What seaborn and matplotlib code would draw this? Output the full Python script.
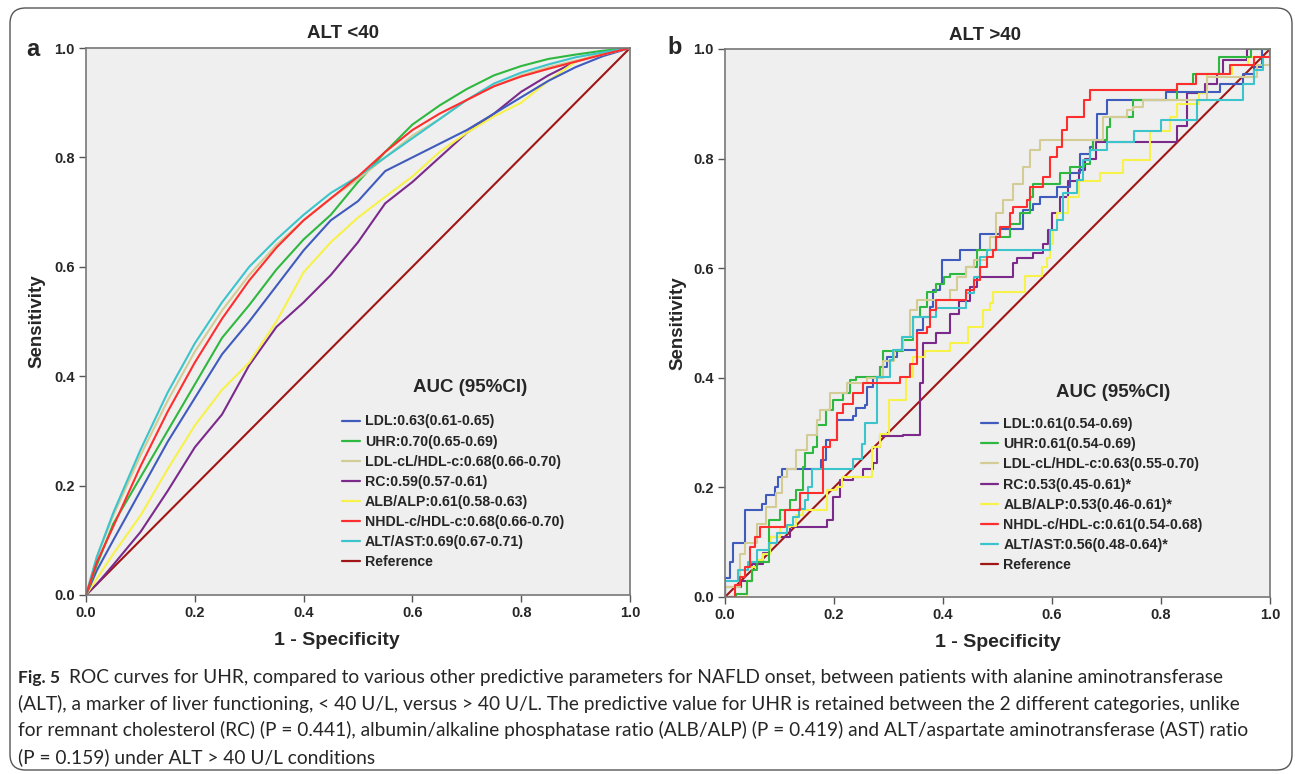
import numpy as np
import pandas as pd
import matplotlib
matplotlib.use('Agg')
import matplotlib.pyplot as plt
import seaborn as sns
from matplotlib.lines import Line2D
from matplotlib.patches import FancyBboxPatch

# ---------------- data ----------------
series_names = ["LDL", "UHR", "LDL-cL/HDL-c", "RC", "ALB/ALP", "NHDL-c/HDL-c", "ALT/AST", "Reference"]
series_colors = ["#3f5bbd", "#2fb83f", "#d3cc95", "#7b2a8c", "#f7f24a", "#ff2e2e", "#3cc4cc", "#a01515"]

labels_a = ["LDL:0.63(0.61-0.65)", "UHR:0.70(0.65-0.69)", "LDL-cL/HDL-c:0.68(0.66-0.70)",
            "RC:0.59(0.57-0.61)", "ALB/ALP:0.61(0.58-0.63)", "NHDL-c/HDL-c:0.68(0.66-0.70)",
            "ALT/AST:0.69(0.67-0.71)", "Reference"]
labels_b = ["LDL:0.61(0.54-0.69)", "UHR:0.61(0.54-0.69)", "LDL-cL/HDL-c:0.63(0.55-0.70)",
            "RC:0.53(0.45-0.61)*", "ALB/ALP:0.53(0.46-0.61)*", "NHDL-c/HDL-c:0.61(0.54-0.68)",
            "ALT/AST:0.56(0.48-0.64)*", "Reference"]

# Panel a (ALT < 40): 1-specificity grid and sensitivity per marker
fpr_a = [0, 0.02, 0.05, 0.1, 0.15, 0.2, 0.25, 0.3, 0.35, 0.4, 0.45, 0.5, 0.55, 0.6, 0.65,
         0.7, 0.75, 0.8, 0.85, 0.9, 0.95, 1.0]
ldl_a = [0, 0.045, 0.10, 0.19, 0.28, 0.36, 0.44, 0.50, 0.565, 0.63, 0.685, 0.72, 0.775, 0.80,
         0.825, 0.85, 0.88, 0.91, 0.94, 0.965, 0.985, 1.0]
uhr_a = [0, 0.055, 0.13, 0.215, 0.30, 0.385, 0.47, 0.53, 0.595, 0.65, 0.695, 0.755, 0.81, 0.86,
         0.895, 0.925, 0.95, 0.967, 0.98, 0.988, 0.995, 1.0]
ldlc_a = [0, 0.07, 0.145, 0.255, 0.355, 0.445, 0.52, 0.585, 0.64, 0.685, 0.725, 0.76, 0.80, 0.84,
          0.87, 0.905, 0.93, 0.95, 0.965, 0.977, 0.988, 1.0]
rc_a = [0, 0.02, 0.055, 0.115, 0.19, 0.27, 0.33, 0.42, 0.49, 0.535, 0.585, 0.645, 0.716, 0.755,
        0.80, 0.845, 0.88, 0.92, 0.95, 0.975, 0.99, 1.0]
alb_a = [0, 0.03, 0.075, 0.145, 0.23, 0.31, 0.375, 0.425, 0.50, 0.59, 0.645, 0.69, 0.728, 0.765,
         0.81, 0.845, 0.875, 0.90, 0.94, 0.975, 0.99, 1.0]
nhdl_a = [0, 0.06, 0.125, 0.235, 0.335, 0.425, 0.505, 0.575, 0.635, 0.685, 0.725, 0.765, 0.81, 0.85,
          0.88, 0.905, 0.93, 0.948, 0.962, 0.975, 0.988, 1.0]
alt_a = [0, 0.07, 0.15, 0.265, 0.37, 0.46, 0.535, 0.60, 0.65, 0.695, 0.735, 0.765, 0.80, 0.835,
         0.87, 0.905, 0.935, 0.955, 0.97, 0.983, 0.992, 1.0]

# Panel b (ALT > 40): step ROC curves (1-specificity, sensitivity)
ldl_b_x = [0, 0, 0.009, 0.015, 0.037, 0.067, 0.076, 0.092, 0.098, 0.104, 0.177, 0.185, 0.205, 0.235,
           0.241, 0.257, 0.26, 0.272, 0.284, 0.297, 0.315, 0.352, 0.364, 0.376, 0.382, 0.394, 0.399,
           0.431, 0.468, 0.505, 0.547, 0.566, 0.578, 0.609, 0.633, 0.651, 0.67, 0.676, 0.682, 0.70,
           0.81, 0.908, 0.951, 0.97, 0.985, 1.0]
ldl_b_y = [0, 0.035, 0.064, 0.098, 0.158, 0.17, 0.186, 0.20, 0.219, 0.234, 0.25, 0.286, 0.323, 0.33,
           0.344, 0.35, 0.384, 0.402, 0.42, 0.438, 0.45, 0.487, 0.511, 0.529, 0.56, 0.572, 0.615,
           0.633, 0.663, 0.671, 0.706, 0.718, 0.73, 0.748, 0.773, 0.809, 0.821, 0.834, 0.882, 0.907,
           0.922, 0.937, 0.955, 0.968, 1.0, 1.0]
uhr_b_x = [0, 0.021, 0.04, 0.049, 0.058, 0.08, 0.101, 0.119, 0.131, 0.144, 0.147, 0.162, 0.168, 0.186,
           0.199, 0.217, 0.229, 0.241, 0.284, 0.29, 0.327, 0.345, 0.358, 0.37, 0.388, 0.401, 0.413,
           0.443, 0.462, 0.498, 0.523, 0.541, 0.56, 0.566, 0.615, 0.633, 0.658, 0.67, 0.676, 0.70,
           0.707, 0.749, 0.829, 0.859, 0.907, 0.966, 1.0]
uhr_b_y = [0, 0.006, 0.03, 0.049, 0.064, 0.14, 0.158, 0.177, 0.195, 0.238, 0.262, 0.274, 0.314, 0.341,
           0.359, 0.372, 0.396, 0.402, 0.42, 0.448, 0.469, 0.511, 0.529, 0.557, 0.572, 0.584, 0.59,
           0.603, 0.633, 0.657, 0.68, 0.70, 0.73, 0.754, 0.773, 0.785, 0.791, 0.815, 0.834, 0.858,
           0.876, 0.907, 0.937, 0.955, 0.986, 1.0, 1.0]
ldlc_b_x = [0, 0, 0.027, 0.037, 0.058, 0.076, 0.094, 0.104, 0.113, 0.131, 0.15, 0.168, 0.174, 0.193,
            0.223, 0.26, 0.29, 0.31, 0.327, 0.339, 0.352, 0.413, 0.425, 0.443, 0.456, 0.48, 0.486,
            0.498, 0.511, 0.529, 0.547, 0.56, 0.578, 0.694, 0.737, 0.749, 0.767, 0.884, 0.976, 1.0]
ldlc_b_y = [0, 0.018, 0.079, 0.098, 0.134, 0.165, 0.189, 0.219, 0.234, 0.268, 0.295, 0.323, 0.341, 0.372,
            0.39, 0.40, 0.43, 0.45, 0.475, 0.523, 0.542, 0.56, 0.584, 0.603, 0.615, 0.633, 0.657,
            0.70, 0.724, 0.754, 0.785, 0.815, 0.834, 0.876, 0.888, 0.894, 0.907, 0.949, 0.971, 1.0]
rc_b_x = [0, 0, 0.03, 0.05, 0.07, 0.083, 0.119, 0.187, 0.199, 0.211, 0.235, 0.254, 0.272, 0.278, 0.284,
          0.327, 0.358, 0.358, 0.364, 0.388, 0.413, 0.43, 0.45, 0.462, 0.529, 0.535, 0.566, 0.584,
          0.593, 0.60, 0.615, 0.63, 0.65, 0.66, 0.68, 0.83, 0.847, 0.88, 0.902, 0.914, 0.957, 1.0]
rc_b_y = [0, 0.018, 0.03, 0.06, 0.08, 0.11, 0.128, 0.14, 0.183, 0.213, 0.219, 0.234, 0.244, 0.274, 0.293,
          0.296, 0.329, 0.39, 0.463, 0.481, 0.517, 0.54, 0.565, 0.584, 0.609, 0.618, 0.627, 0.645,
          0.67, 0.70, 0.73, 0.76, 0.78, 0.80, 0.83, 0.86, 0.92, 0.937, 0.955, 0.98, 1.0, 1.0]
alb_b_x = [0, 0.037, 0.04, 0.049, 0.058, 0.07, 0.083, 0.101, 0.12, 0.13, 0.144, 0.187, 0.205, 0.214,
           0.269, 0.269, 0.285, 0.30, 0.333, 0.345, 0.367, 0.413, 0.446, 0.474, 0.486, 0.492, 0.55,
           0.581, 0.59, 0.596, 0.602, 0.61, 0.63, 0.65, 0.688, 0.73, 0.78, 0.816, 0.829, 0.87, 0.884,
           0.93, 0.96, 1.0]
alb_b_y = [0, 0, 0.03, 0.055, 0.067, 0.079, 0.11, 0.128, 0.13, 0.15, 0.158, 0.195, 0.201, 0.219,
           0.25, 0.274, 0.298, 0.359, 0.402, 0.438, 0.448, 0.463, 0.493, 0.523, 0.536, 0.557, 0.585,
           0.602, 0.618, 0.645, 0.67, 0.70, 0.73, 0.76, 0.773, 0.797, 0.85, 0.876, 0.90, 0.92, 0.955,
           0.97, 0.985, 1.0]
nhdl_b_x = [0, 0.018, 0.027, 0.037, 0.046, 0.055, 0.064, 0.11, 0.138, 0.18, 0.18, 0.193, 0.205, 0.217,
            0.235, 0.254, 0.321, 0.339, 0.352, 0.37, 0.376, 0.388, 0.443, 0.456, 0.468, 0.48, 0.492,
            0.498, 0.505, 0.523, 0.529, 0.554, 0.56, 0.584, 0.596, 0.609, 0.618, 0.627, 0.658, 0.67,
            0.829, 0.865, 0.927, 0.97, 1.0]
nhdl_b_y = [0, 0.021, 0.037, 0.054, 0.091, 0.11, 0.128, 0.158, 0.189, 0.213, 0.274, 0.286, 0.335, 0.353,
            0.372, 0.39, 0.402, 0.426, 0.481, 0.493, 0.523, 0.542, 0.56, 0.578, 0.603, 0.621, 0.633,
            0.657, 0.676, 0.70, 0.712, 0.724, 0.748, 0.767, 0.803, 0.821, 0.852, 0.876, 0.907, 0.925,
            0.937, 0.955, 0.971, 0.986, 1.0]
alt_b_x = [0, 0, 0.024, 0.043, 0.058, 0.08, 0.095, 0.113, 0.125, 0.135, 0.147, 0.153, 0.159, 0.235,
           0.251, 0.257, 0.279, 0.279, 0.303, 0.309, 0.324, 0.345, 0.388, 0.443, 0.456, 0.468, 0.48,
           0.596, 0.609, 0.62, 0.645, 0.657, 0.67, 0.70, 0.75, 0.80, 0.866, 0.951, 0.97, 0.988, 1.0]
alt_b_y = [0, 0.03, 0.049, 0.064, 0.085, 0.098, 0.116, 0.131, 0.146, 0.161, 0.177, 0.201, 0.234, 0.252,
           0.28, 0.317, 0.356, 0.402, 0.432, 0.45, 0.475, 0.511, 0.527, 0.554, 0.584, 0.621, 0.633,
           0.67, 0.688, 0.737, 0.761, 0.797, 0.815, 0.83, 0.85, 0.87, 0.907, 0.937, 0.961, 0.986, 1.0]
ref_x = [0, 1]
ref_y = [0, 1]

caption_lines = [
    "ROC curves for UHR, compared to various other predictive parameters for NAFLD onset, between patients with alanine aminotransferase",
    "(ALT), a marker of liver functioning, < 40 U/L, versus > 40 U/L. The predictive value for UHR is retained between the 2 different categories, unlike",
    "for remnant cholesterol (RC) (P = 0.441), albumin/alkaline phosphatase ratio (ALB/ALP) (P = 0.419) and ALT/aspartate aminotransferase (AST) ratio",
    "(P = 0.159) under ALT > 40 U/L conditions",
]

# ---------------- build frames ----------------
curves_a = [ldl_a, uhr_a, ldlc_a, rc_a, alb_a, nhdl_a, alt_a]
frames_a = [pd.DataFrame({"fpr": fpr_a, "tpr": c}) for c in curves_a]
frames_a.append(pd.DataFrame({"fpr": ref_x, "tpr": ref_y}))
curves_b = [(ldl_b_x, ldl_b_y), (uhr_b_x, uhr_b_y), (ldlc_b_x, ldlc_b_y), (rc_b_x, rc_b_y),
            (alb_b_x, alb_b_y), (nhdl_b_x, nhdl_b_y), (alt_b_x, alt_b_y)]
frames_b = [pd.DataFrame({"fpr": x, "tpr": y}) for x, y in curves_b]
frames_b.append(pd.DataFrame({"fpr": ref_x, "tpr": ref_y}))

# ---------------- figure ----------------
sns.set_theme(style="white")
plt.rcParams['font.family'] = ['Liberation Sans', 'DejaVu Sans']

W, H = 1295, 774
fig = plt.figure(figsize=(W / 100, H / 100), dpi=100)
fig.patch.set_facecolor("white")

def fx(px):
    return px / W

def fy(py):
    return 1 - py / H

border = FancyBboxPatch((fx(10), fy(770)), fx(1292) - fx(10), fy(8) - fy(770),
                        boxstyle="round,pad=0,rounding_size=0.012", transform=fig.transFigure,
                        facecolor="none", edgecolor="#555555", linewidth=1.0, mutation_aspect=W / H)
fig.add_artist(border)

ax_a = fig.add_axes([fx(86), fy(595), fx(630) - fx(86), fy(48) - fy(595)])
ax_b = fig.add_axes([fx(725), fy(597), fx(1270) - fx(725), fy(49) - fy(597)])

for ax, frames, steps in [(ax_a, frames_a, False), (ax_b, frames_b, True)]:
    ax.set_facecolor("#efefef")
    for i in [7, 3, 4, 0, 1, 2, 6, 5]:
        kw = {}
        if steps and i != 7:
            kw["drawstyle"] = "steps-post"
        sns.lineplot(data=frames[i], x="fpr", y="tpr", ax=ax, color=series_colors[i],
                     lw=1.5, sort=False, estimator=None, legend=False, **kw)
    ax.set_xlim(0, 1)
    ax.set_ylim(0, 1)
    ticks = [0, 0.2, 0.4, 0.6, 0.8, 1.0]
    ax.set_xticks(ticks)
    ax.set_yticks(ticks)
    ax.set_xticklabels([f"{t:.1f}" for t in ticks], fontweight="bold", fontsize=10.5)
    ax.set_yticklabels([f"{t:.1f}" for t in ticks], fontweight="bold", fontsize=10.5)
    ax.tick_params(axis="both", direction="out", length=5, width=1, color="#555555",
                   pad=3, bottom=True, left=True)
    for s in ax.spines.values():
        s.set_color("#777777")
        s.set_linewidth(1.2)
    ax.set_xlabel("1 - Specificity", fontsize=14, fontweight="bold")
    ax.set_ylabel("Sensitivity", fontsize=13.5, fontweight="bold")

ax_a.xaxis.set_label_coords(0.462, -0.068)
ax_b.xaxis.set_label_coords(0.50, -0.068)
ax_a.yaxis.set_label_coords(-0.075, 0.5)
ax_b.yaxis.set_label_coords(-0.070, 0.5)

for ax, labels, tx, ty in [(ax_a, labels_a, 0.706, 0.380), (ax_b, labels_b, 0.712, 0.374)]:
    handles = [Line2D([0], [0], color=c, lw=1.6) for c in series_colors]
    ax.text(tx, ty, "AUC (95%CI)", transform=ax.transAxes, ha="center", va="center",
            fontsize=13.5, fontweight="bold")
    ax.legend(handles, labels, loc="upper left",
              bbox_to_anchor=(0.471, 0.33) if ax is ax_a else (0.469, 0.328),
              frameon=False, prop={"weight": "bold", "size": 10.2},
              handlelength=1.25, handletextpad=0.35, labelspacing=0.43,
              borderpad=0, borderaxespad=0)

fig.text(fx(343), fy(33), "ALT <40", ha="center", va="center", fontsize=13.5, fontweight="bold")
fig.text(fx(985), fy(35), "ALT >40", ha="center", va="center", fontsize=13.5, fontweight="bold")
fig.text(fx(33), fy(50), "a", ha="center", va="center", fontsize=17, fontweight="bold")
fig.text(fx(675), fy(47), "b", ha="center", va="center", fontsize=17, fontweight="bold")

# ---------------- caption ----------------
cap_family = ['Lato', 'Liberation Sans', 'DejaVu Sans']
line_y = [678, 704, 730, 757]
line_end = [1275, 1245, 1262, None]
renderer = fig.canvas.get_renderer()
base_fs = 12.5
figlab = fig.text(fx(18), fy(line_y[0]), "Fig. 5", ha="left", va="center", fontsize=base_fs,
                  fontweight="bold", family=cap_family)
bb = figlab.get_window_extent(renderer)
starts = [bb.x1 + 9, 18, 18, 18]
texts = []
for ln, yy, st in zip(caption_lines, line_y, starts):
    texts.append(fig.text(st / W, fy(yy), ln, ha="left", va="center", fontsize=base_fs,
                          family=cap_family))
ratios = []
for t, st, en in zip(texts, starts, line_end):
    if en is not None:
        ratios.append((en - st) / t.get_window_extent(renderer).width)
fs = base_fs * min(ratios)
for t in texts:
    t.set_fontsize(fs)

fig.savefig("out.png", dpi=100, facecolor="white")
